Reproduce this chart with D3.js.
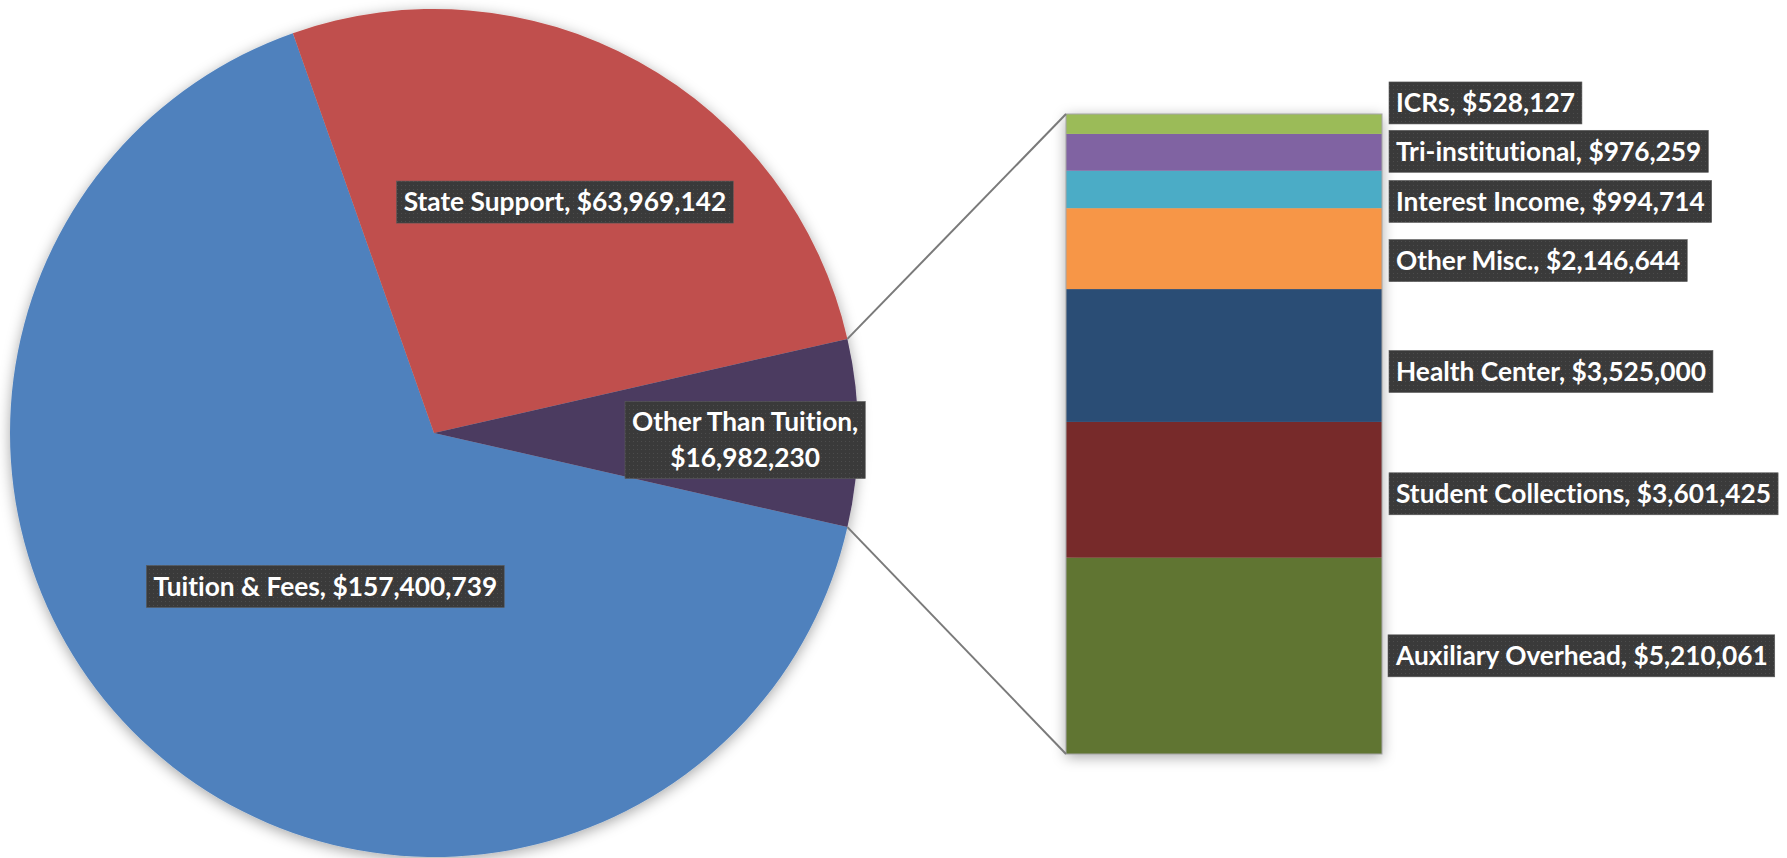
<!DOCTYPE html>
<html><head><meta charset="utf-8">
<script src="https://cdn.jsdelivr.net/npm/d3@7"></script>
<style>body{margin:0;background:#fff}svg{display:block}text{font-variant-ligatures:none;font-feature-settings:"liga" 0,"clig" 0}</style>
</head><body><svg id="chart" width="1787" height="858"></svg>
<script>
// ---- data ----
const pieCategories = ["Tuition & Fees", "State Support", "Other Than Tuition"];
const pieValues = [157400739, 63969142, 16982230];
const barCategories = ["Auxiliary Overhead", "Student Collections", "Health Center", "Other Misc.", "Interest Income", "Tri-institutional", "ICRs"];
const barValues = [5210061, 3601425, 3525000, 2146644, 994714, 976259, 528127];

// ---- style / layout ----
const pieColors = ["#4F81BD", "#C0504D", "#4B3A61"];
const barColors = ["#617431", "#772B2A", "#2C4D75", "#F79646", "#4BACC6", "#8064A2", "#9BBB59"];
const W = 1787, H = 858;
const cx = 434, cy = 433, R = 424;
const barX0 = 1066, barX1 = 1382, barTop = 114, barBottom = 754;
const FONT = "Lato, 'Open Sans', sans-serif";
const FS = 26.3;
// manual label nudges (labels were hand-placed in the original)
const pieLabelOffsets = [[69, -46], [2, 3], [44, 7]];
const barLabelNudge = [0, 4, 16, 12, 12, -1, -21];

const svg = d3.select("#chart");
const defs = svg.append("defs");
const f = defs.append("filter").attr("id", "shadow")
  .attr("x", "-10%").attr("y", "-10%").attr("width", "125%").attr("height", "125%");
f.append("feDropShadow").attr("dx", 0).attr("dy", 3).attr("stdDeviation", 7)
  .attr("flood-color", "#000").attr("flood-opacity", 0.35);
const pat = defs.append("pattern").attr("id", "dots").attr("width", 4).attr("height", 4)
  .attr("patternUnits", "userSpaceOnUse");
pat.append("rect").attr("width", 4).attr("height", 4).attr("fill", "#3a3a3a");
pat.append("rect").attr("x", 1).attr("y", 1).attr("width", 1).attr("height", 1).attr("fill", "#4c4c4c");

const fmt = d3.format("$,");
const pieTotal = d3.sum(pieValues);
const otherHalf = Math.PI * pieValues[2] / pieTotal;
const start = Math.PI / 2 + otherHalf;
const pie = d3.pie().sort(null).startAngle(start).endAngle(start + 2 * Math.PI);
const arcs = pie(pieValues);
const arc = d3.arc().innerRadius(0).outerRadius(R);

// pie
const gPie = svg.append("g").attr("transform", `translate(${cx},${cy})`).attr("filter", "url(#shadow)");
gPie.selectAll("path").data(arcs).join("path")
  .attr("d", arc).attr("fill", (d, i) => pieColors[i]);

// bar
const barTotal = d3.sum(barValues);
const y = d3.scaleLinear().domain([0, barTotal]).range([barBottom, barTop]);
const cum = d3.cumsum(barValues);
const segs = barValues.map((v, i) => ({v, i, y0: cum[i] - v, y1: cum[i]}));
const gBar = svg.append("g").attr("filter", "url(#shadow)");
gBar.selectAll("rect").data(segs).join("rect")
  .attr("x", barX0).attr("width", barX1 - barX0)
  .attr("y", d => y(d.y1)).attr("height", d => y(d.y0) - y(d.y1))
  .attr("fill", d => barColors[d.i]);
svg.append("rect").attr("x", barX0).attr("y", y(barTotal)).attr("width", barX1 - barX0)
  .attr("height", y(0) - y(barTotal)).attr("fill", "none").attr("stroke", "#a6a6a6").attr("stroke-width", 1);

// connectors
const oa = arcs[2];
const pt = a => [cx + R * Math.sin(a), cy - R * Math.cos(a)];
const pA = pt(oa.startAngle), pB = pt(oa.endAngle);
svg.append("line").attr("x1", pA[0]).attr("y1", pA[1]).attr("x2", barX0).attr("y2", y(barTotal))
  .attr("stroke", "#7a7a7a").attr("stroke-width", 2);
svg.append("line").attr("x1", pB[0]).attr("y1", pB[1]).attr("x2", barX0).attr("y2", y(0))
  .attr("stroke", "#7a7a7a").attr("stroke-width", 2);

// label helper
function label(lines, x, yc, anchor) {
  const g = svg.append("g");
  const lh = 36;
  const t = g.append("text").attr("font-family", FONT).attr("font-size", FS).attr("font-weight", 700)
    .attr("fill", "#fff").attr("text-anchor", anchor === "start" ? "start" : "middle");
  lines.forEach((s, k) => {
    t.append("tspan").attr("x", anchor === "start" ? x + 7 : x)
      .attr("y", yc + (k - (lines.length - 1) / 2) * lh).attr("dy", "0.35em").text(s);
  });
  const bb = t.node().getBBox();
  const padX = 7, h = lines.length === 1 ? 42 : 77;
  g.insert("rect", "text").attr("x", bb.x - padX).attr("y", yc - h / 2)
    .attr("width", bb.width + 2 * padX).attr("height", h)
    .attr("fill", "url(#dots)").attr("stroke", "#5a5a5a").attr("stroke-width", 0.6);
}

const lblArc = d3.arc().innerRadius(R * 0.63).outerRadius(R * 0.63);
arcs.forEach((d, i) => {
  const c = lblArc.centroid(d);
  const x = cx + c[0] + pieLabelOffsets[i][0], yy = cy + c[1] + pieLabelOffsets[i][1];
  const lines = i === 2 ? [pieCategories[i] + ",", fmt(pieValues[i])] : [pieCategories[i] + ", " + fmt(pieValues[i])];
  label(lines, x, yy, "middle");
});
segs.forEach(d => {
  const yc = (y(d.y0) + y(d.y1)) / 2 + barLabelNudge[d.i];
  label([barCategories[d.i] + ", " + fmt(d.v)], barX1 + 7, yc, "start");
});
</script></body></html>
